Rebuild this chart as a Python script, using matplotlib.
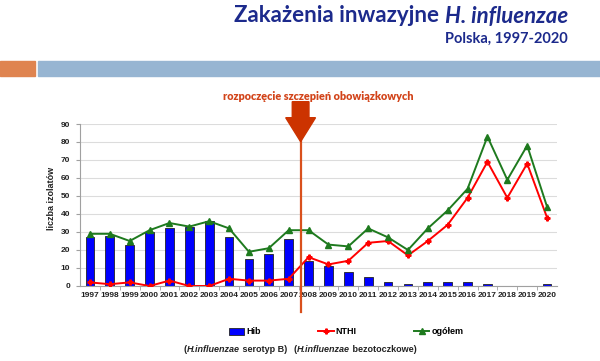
import matplotlib
matplotlib.use("Agg")
import matplotlib.pyplot as plt
from matplotlib.patches import Rectangle, Polygon
from matplotlib.lines import Line2D

years = list(range(1997, 2021))
hib = [27, 28, 23, 30, 32, 33, 36, 27, 15, 18, 26, 14, 11, 8, 5, 2, 1, 2, 2, 2, 1, 0, 0, 1]
nthi = [2, 1, 2, 0, 3, 0, 0, 4, 3, 3, 4, 16, 12, 14, 24, 25, 17, 25, 34, 49, 69, 49, 68, 38]
total = [29, 29, 25, 31, 35, 33, 36, 32, 19, 21, 31, 31, 23, 22, 32, 27, 20, 32, 42, 54, 83, 59, 78, 44]
yticks = list(range(0, 100, 10))
vacc_x = 2007.6  # start of mandatory vaccination (between 2007 and 2008)

W, H = 600, 361
fig = plt.figure(figsize=(W / 100, H / 100), dpi=100)

def px(x, y):
    return x / W, 1 - y / H

navy = "#1c2a8c"
r = fig.canvas.get_renderer()

# title pieces (regular + italic) laid out right-to-left
t2 = fig.text(*px(568, 16), "H. influenzae", ha="right", va="center", color=navy,
              fontsize=16, fontweight="bold", style="italic", family="Lato")
bb = t2.get_window_extent(r)
fig.text((bb.x0 - 6) / W, 1 - 16 / H, "Zakażenia inwazyjne", ha="right", va="center",
         color=navy, fontsize=16, fontweight="bold", family="Lato")
fig.text(*px(568, 39), "Polska, 1997-2020", ha="right", va="center", color=navy,
         fontsize=10.5, fontweight="bold", family="Lato")

# decorative header bars
fig.patches.append(Rectangle(px(0, 76), 35 / W, 15 / H, transform=fig.transFigure,
                             color="#df8450", zorder=0))
fig.patches.append(Rectangle(px(38, 76), (W - 38) / W, 15 / H, transform=fig.transFigure,
                             color="#97b5d2", zorder=0))

fig.text(*px(318, 96), "rozpoczęcie szczepień obowiązkowych", ha="center", va="center",
         color="#d2441a", fontsize=7.8, fontweight="heavy", family="Lato")

ax = fig.add_axes([80 / W, (H - 286) / H, 477 / W, 162 / H])
ax.bar(years, hib, width=0.44, color="#0000ff", edgecolor="#303040", linewidth=0.7, zorder=2)
ax.plot(years, nthi, color="#ff0000", lw=1.4, marker="P", ms=3.5, zorder=3)
ax.plot(years, total, color="#1e7a1e", lw=1.4, marker="^", ms=5, zorder=3)

ax.set_xlim(1996.5, 2020.5)
ax.set_ylim(0, 90)
ax.set_yticks(yticks)
ax.set_xticks(years)
ax.set_xticks([y + 0.5 for y in years[:-1]], minor=True)
ax.tick_params(axis="x", which="major", length=0, pad=4)
ax.tick_params(axis="x", which="minor", length=3, color="#a0a0a0", direction="out")
ax.tick_params(axis="y", length=3, color="#a0a0a0", pad=4)
for lab in ax.get_xticklabels() + ax.get_yticklabels():
    lab.set_fontsize(6)
    lab.set_fontweight("bold")
    lab.set_family("Liberation Sans")
    lab.set_color("#222222")
ax.grid(axis="y", color="#dcdcdc", lw=0.8, zorder=0)
ax.set_axisbelow(True)
for s in ("top", "right"):
    ax.spines[s].set_visible(False)
for s in ("left", "bottom"):
    ax.spines[s].set_color("#a0a0a0")
    ax.spines[s].set_linewidth(0.8)

fig.text(*px(51, 198), "liczba izolatów", rotation=90, ha="center", va="center",
         fontsize=6.5, fontweight="bold", family="Liberation Sans", color="#222222")

# vaccination marker: vertical line + block arrow
ax.plot([vacc_x, vacc_x], [-14.3, 100], color="#d9501c", lw=1.6, clip_on=False, zorder=4)
sw, hw = 0.42, 0.75
arrow = Polygon([(vacc_x - sw, 102.4), (vacc_x + sw, 102.4), (vacc_x + sw, 93.5),
                 (vacc_x + hw, 93.5), (vacc_x, 80.2), (vacc_x - hw, 93.5),
                 (vacc_x - sw, 93.5)], closed=True, color="#cc3300", clip_on=False, zorder=5)
ax.add_patch(arrow)

# legend
handles = [Rectangle((0, 0), 1, 1, facecolor="#0000ff", edgecolor="#303040", lw=0.7),
           Line2D([], [], color="#ff0000", lw=1.4, marker="P", ms=3.5),
           Line2D([], [], color="#1e7a1e", lw=1.4, marker="^", ms=4)]
leg = fig.legend(handles, ["Hib", "NTHI", "ogółem"], loc="center",
                 bbox_to_anchor=px(346, 332), ncol=3, frameon=False,
                 prop={"family": "Liberation Sans", "weight": "bold", "size": 6.5},
                 handlelength=1.7, handleheight=0.7, handletextpad=0.2, columnspacing=6.4)

def mixed(x, y, parts):
    # parts: list of (text, italic)
    for txt, it in parts:
        t = fig.text(x / W, 1 - y / H, txt, ha="left", va="center", fontsize=6.5,
                     fontweight="bold", style="italic" if it else "normal",
                     family="Liberation Sans", color="#222222")
        x = t.get_window_extent(r).x1

mixed(184, 349, [("(", False), ("H.influenzae", True), (" serotyp B)", False)])
mixed(294, 349, [("(", False), ("H.influenzae", True), (" bezotoczkowe)", False)])

fig.savefig("out.png", dpi=100)
